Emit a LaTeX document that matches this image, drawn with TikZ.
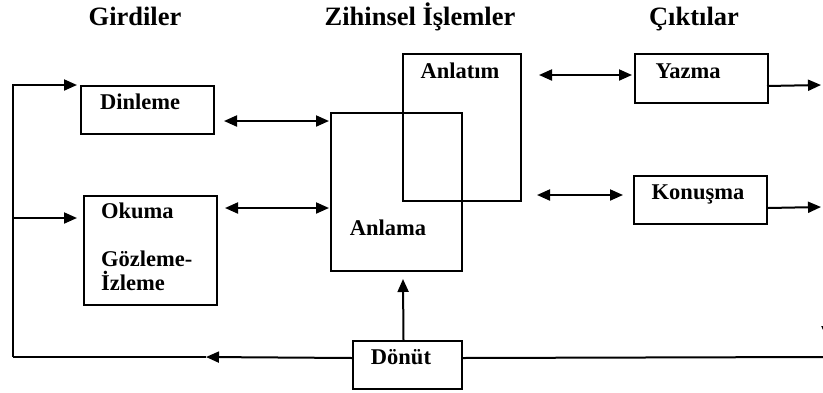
\documentclass[tikz,border=0pt]{standalone}
\usepackage{fontspec}
\setmainfont{Liberation Serif}
\usetikzlibrary{arrows.meta,calc}
\begin{document}
\begin{tikzpicture}[x=1pt,y=-1pt,
  box/.style={draw, line width=2pt, inner sep=0, anchor=north west},
  lbl/.style={font=\fontsize{22.5}{24}\selectfont\bfseries, inner sep=0},
  ttl/.style={font=\fontsize{26.5}{28}\selectfont\bfseries, inner sep=0, anchor=base},
  conn/.style={line width=2pt},
  arr/.style={conn, -{Triangle[length=13pt,width=11pt]}},
  darr/.style={conn, {Triangle[length=13pt,width=11pt]}-{Triangle[length=13pt,width=11pt]}}]
\useasboundingbox (0,0) rectangle (823,392);

% titles
\node[ttl] (t1) at (135,25) {Girdiler};
\node[ttl] (t2) at (420,25) {Zihinsel İşlemler};
\node[ttl] (t3) at (694,25) {Çıktılar};

% boxes
\node[box, minimum width=133pt, minimum height=48pt] (din) at (80,85) {};
\node[box, minimum width=133pt, minimum height=109pt] (oku) at (83,195) {};
\node[box, minimum width=131pt, minimum height=158pt] (anla) at (330,112) {};
\node[box, minimum width=118pt, minimum height=147pt] (anlt) at (402,53) {};
\node[box, minimum width=133pt, minimum height=49pt] (yaz) at (634,53) {};
\node[box, minimum width=133pt, minimum height=48pt] (kon) at (633,175) {};
\node[box, minimum width=109pt, minimum height=48pt] (don) at (352,340) {};

% labels
\node[lbl, anchor=base west] (ldin) at (100,109) {Dinleme};
\node[lbl, anchor=base west] (loku) at (101,218) {Okuma};
\node[lbl, anchor=base west] (lgoz) at (101,266) {Gözleme-};
\node[lbl, anchor=base west] (lizl) at (101,290) {İzleme};
\node[lbl, anchor=base] (lanla) at (388,235) {Anlama};
\node[lbl, anchor=base] (lanlt) at (460,78) {Anlatım};
\node[lbl, anchor=base] (lyaz) at (688,78) {Yazma};
\node[lbl, anchor=base] (lkon) at (698,199) {Konuşma};
\node[lbl, anchor=base] (ldon) at (401,364) {Dönüt};

% coordinates
\coordinate (c1) at (13,357);
\coordinate (c2) at (13,85);
\coordinate (c3) at (13,218);
\coordinate (m1) at (206,357);
\coordinate (o1) at (821,85);
\coordinate (o2) at (821,207);
\coordinate (o3) at (823,357);
\coordinate (o4a) at (827,300);
\coordinate (o4b) at (827,339);

% feedback loop to inputs
\draw[arr] (c1) -- (c2) -- ($(din.north west)+(-3,0)$);
\draw[arr] (c3) -- ($(c3 -| oku.west)+(-6,0)$);
\draw[arr] ($(don.west)+(0,-7)$) -- (m1);
\draw[conn] (m1) -- (c1);
\draw[conn] ($(don.east)+(0,-7)$) -- (o3);
\draw[arr] ($(don.north)+(-4,0)$) -- ($(anla.south)+(6.5,7)$);

% double arrows
\draw[darr] ($(din.east)+(9,11)$) -- ($(anla.west |- din.east)+(-1,11)$);
\draw[darr] ($(oku.east)+(7,-42.5)$) -- ($(anla.west)+(-1,16)$);
\draw[darr] ($(anlt.east)+(17,-52.5)$) -- ($(yaz.west)+(-2,-3.5)$);
\draw[darr] ($(anlt.east)+(15,67.5)$) -- ($(kon.west)+(-10,-5)$);

% outputs
\draw[arr] ($(yaz.east)+(-2,7.5)$) -- (o1);
\draw[arr] ($(kon.east)+(0,8)$) -- (o2);

\begin{scope}
\clip (0,0) rectangle (823,392);
\draw[arr] (o4a) -- (o4b);
\end{scope}
\end{tikzpicture}
\end{document}
